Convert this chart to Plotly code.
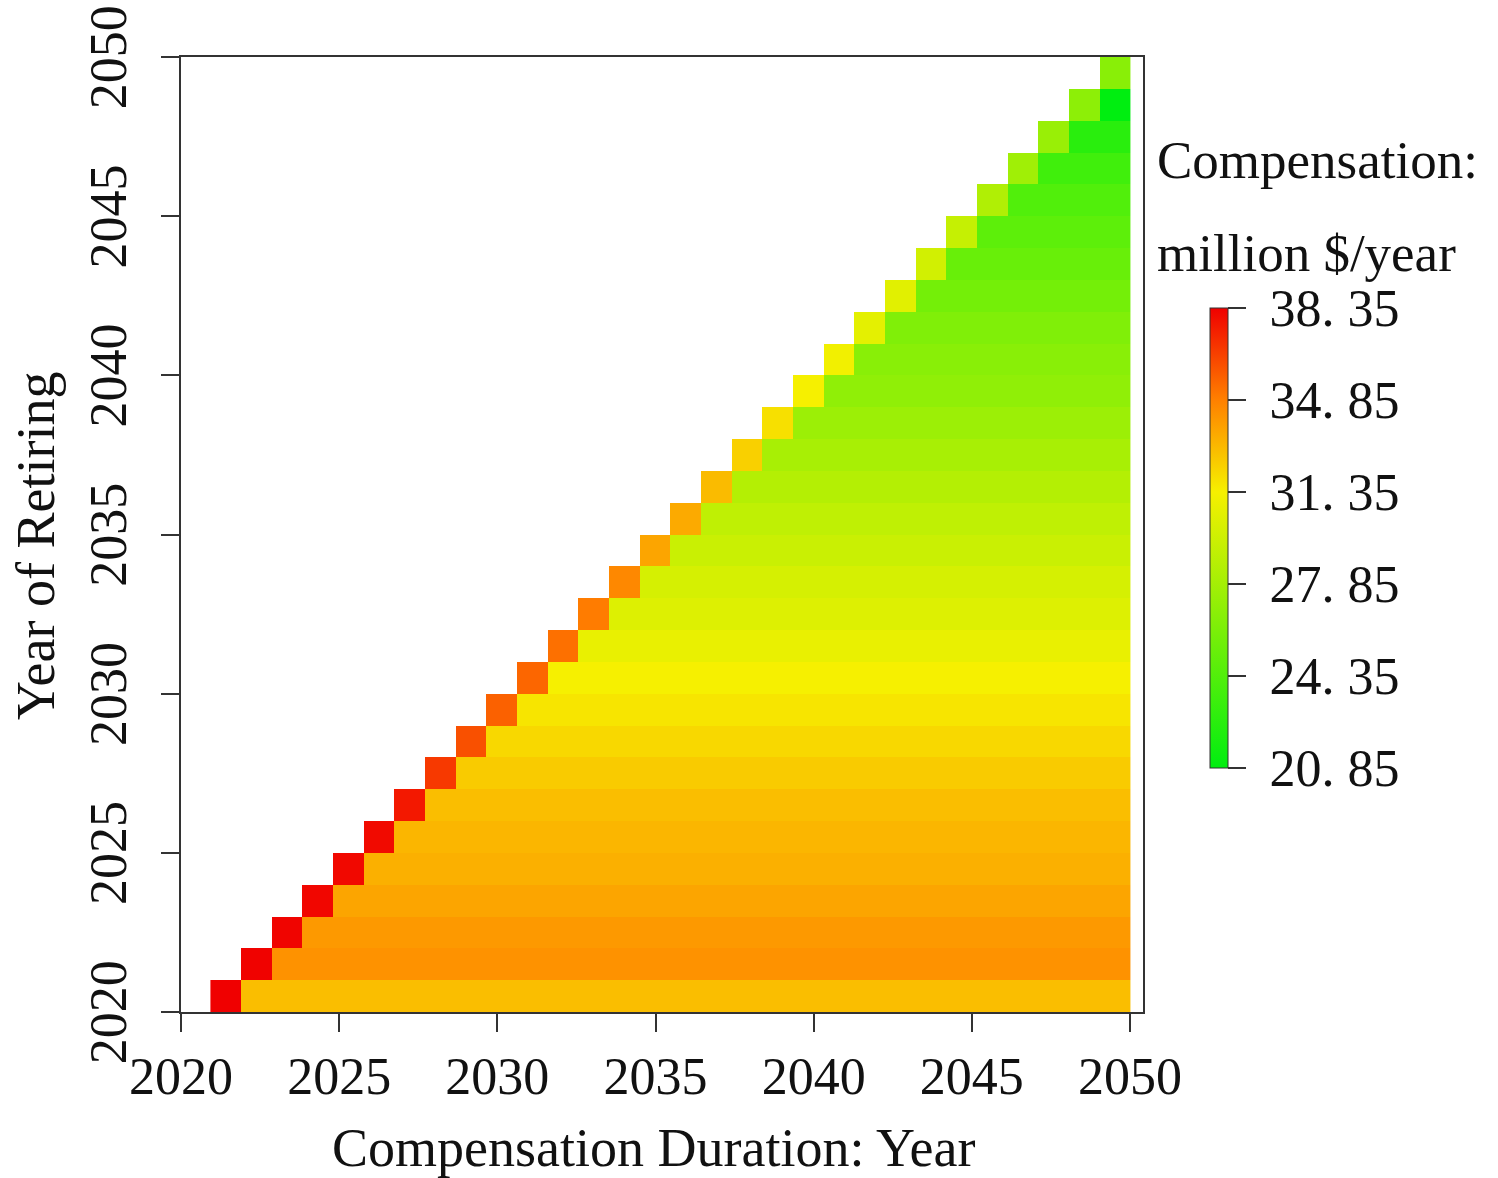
import numpy as np
import plotly.graph_objects as go

# Year of retiring (rows) and compensation-duration columns
retire_years = list(range(2020, 2050))          # 30 rows
n_cols = 30

# Value of the first (diagonal) cell in each row, million $/year
diag_values = [38.35, 38.30, 38.24, 38.18, 38.13, 38.07, 37.70, 36.80, 36.16, 35.70,
               35.55, 35.30, 34.96, 34.60, 33.68, 33.54, 33.00, 32.36, 31.84, 31.35,
               31.20, 30.60, 30.46, 29.77, 29.25, 28.38, 27.70, 27.36, 26.85, 26.68]

# Value of the remaining cells in each row (constant along the row)
fill_values = [32.90, 34.30, 34.06, 33.68, 33.35, 33.15, 32.90, 32.50, 32.10, 31.70,
               31.35, 30.79, 30.28, 29.93, 29.42, 29.00, 28.55, 28.00, 27.50, 27.00,
               26.68, 26.30, 25.80, 25.30, 24.80, 24.30, 23.60, 22.60, 20.85, None]

cbar_ticks = [20.85, 24.35, 27.85, 31.35, 34.85, 38.35]
cbar_text = ["20. 85", "24. 35", "27. 85", "31. 35", "34. 85", "38. 35"]
axis_ticks = [2020, 2025, 2030, 2035, 2040, 2045, 2050]

# Build the triangular matrix
z = []
for i, yr in enumerate(retire_years):
    row = []
    for j in range(n_cols):
        if j < i:
            row.append(None)
        elif j == i:
            row.append(diag_values[i])
        else:
            row.append(fill_values[i])
    z.append(row)

x_edges = np.linspace(2020.93, 2050, n_cols + 1)
y_edges = np.arange(2020, 2051)

colorscale = [[0.0, "rgb(0,238,16)"], [0.6, "rgb(246,240,0)"],
              [0.8, "rgb(255,128,0)"], [1.0, "rgb(240,0,0)"]]

W, H = 1498, 1178
PL, PR, PT, PB = 181, 1143, 57, 1012   # plot-area edges on screen
pw = PR - PL
ph = PB - PT
L, T = PL, PT
R = W - PR
B = H - PB

def px_x(px):
    return (px - PL) / pw

def px_y(py):
    return (PB - py) / ph

font_family = "Liberation Serif"
NB = "\u00a0"

fig = go.Figure(go.Heatmap(
    z=z, x=x_edges, y=y_edges,
    colorscale=colorscale, zmin=20.85, zmax=38.35,
    hoverongaps=False,
    colorbar=dict(
        x=px_x(1210), xanchor="left", xpad=0,
        y=px_y(308), yanchor="top", ypad=0,
        thickness=18, lenmode="pixels", len=460,
        tickvals=cbar_ticks, ticktext=[NB + t for t in cbar_text],
        ticks="outside", ticklen=18, tickwidth=2, tickcolor="#333",
        tickfont=dict(family=font_family, size=52, color="#111"),
        outlinewidth=1, outlinecolor="#333",
    ),
))

fig.update_layout(
    width=W, height=H,
    margin=dict(l=L, r=R, t=T, b=B, autoexpand=False),
    paper_bgcolor="white", plot_bgcolor="white",
    font=dict(family=font_family, size=52, color="#111"),
    xaxis=dict(
        range=[2020, 2050.41], tickvals=axis_ticks,
        showline=True, linecolor="#333", linewidth=2, mirror=True,
        ticks="outside", ticklen=18, tickwidth=2, tickcolor="#333",
        showgrid=False, zeroline=False, ticklabeloverflow="allow",
        tickfont=dict(size=52),
    ),
    yaxis=dict(
        range=[2020, 2050], tickvals=axis_ticks, tickangle=-90,
        showline=True, linecolor="#333", linewidth=2, mirror=True,
        ticks="outside", ticklen=18, tickwidth=2, tickcolor="#333",
        showgrid=False, zeroline=False, ticklabeloverflow="allow",
        ticklabelstandoff=14, ticklabelshift=8,
        tickfont=dict(size=52),
    ),
    annotations=[
        dict(text="Compensation Duration: Year", xref="paper", yref="paper",
             x=px_x(653), y=px_y(1148), xanchor="center", yanchor="middle",
             showarrow=False, font=dict(size=54)),
        dict(text="Year of Retiring", xref="paper", yref="paper", textangle=-90,
             x=px_x(36), y=px_y(546), xanchor="center", yanchor="middle",
             showarrow=False, font=dict(size=54)),
        dict(text="Compensation:", xref="paper", yref="paper",
             x=px_x(1155), y=px_y(160), xanchor="left", yanchor="middle",
             showarrow=False, font=dict(size=53)),
        dict(text="million $/year", xref="paper", yref="paper",
             x=px_x(1155), y=px_y(253), xanchor="left", yanchor="middle",
             showarrow=False, font=dict(size=53)),
    ],
)

fig.write_html("out.html", config={"displayModeBar": False},
               post_script="document.body.style.margin='0';")
